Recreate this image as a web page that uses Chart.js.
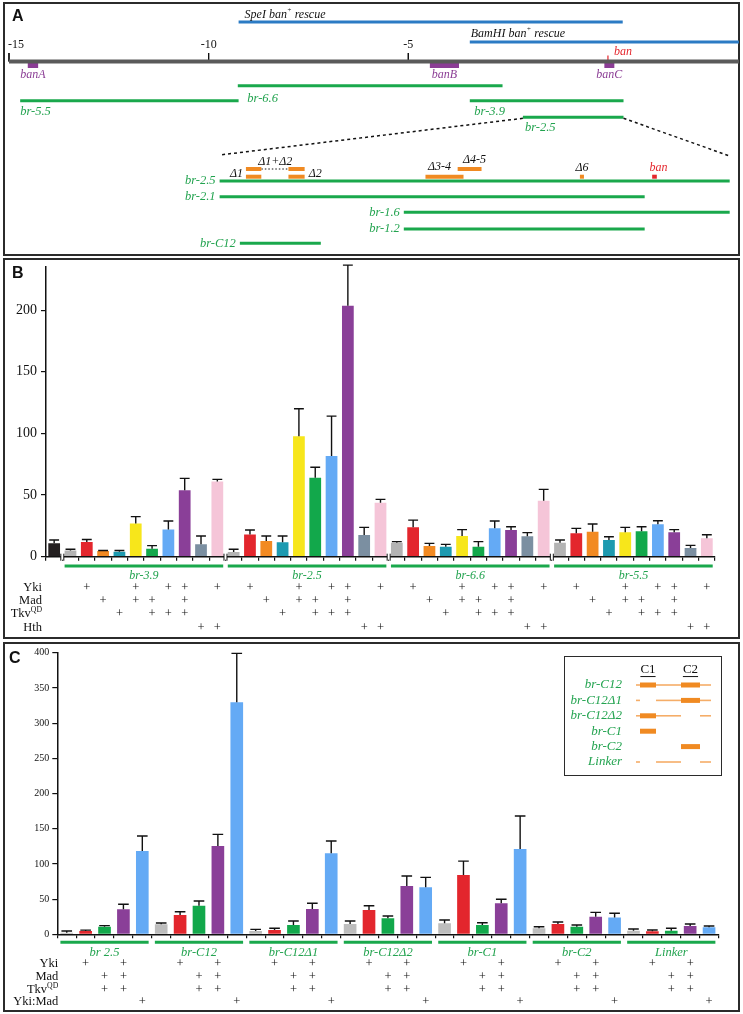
<!DOCTYPE html>
<html>
<head>
<meta charset="utf-8">
<title>ban reporter assays</title>
<script src="https://cdn.jsdelivr.net/npm/chart.js@4.4.1/dist/chart.umd.min.js"></script>
<style>
  body { margin: 0; background: #fff; }
  #page { position: relative; width: 743px; height: 1014px; overflow: hidden; }
  .box { position: absolute; border: 2px solid #2b2b2b; box-sizing: border-box; }
  .holder { position: absolute; }
  .letter { position: absolute; font: bold 16px "Liberation Sans", Arial, sans-serif; color: #111; }
</style>
</head>
<body>
<div id="page">
  <div class="box" style="left:3px;top:2px;width:737px;height:254px"></div>
  <div class="box" style="left:3px;top:258px;width:737px;height:381px"></div>
  <div class="box" style="left:3px;top:642px;width:737px;height:370px"></div>
  <div class="holder" style="left:8px;top:0;width:731px;height:256px"><canvas id="chartA"></canvas></div>
  <div class="holder" style="left:5px;top:261px;width:733px;height:376px"><canvas id="chartB"></canvas></div>
  <div class="holder" style="left:5px;top:644px;width:733px;height:366px"><canvas id="chartC"></canvas></div>
  <div class="box" style="left:564px;top:656px;width:158px;height:120px;border-width:1.5px"></div>
  <div class="holder" style="left:566px;top:658px;width:155px;height:117px"><canvas id="chartInset"></canvas></div>
  <div class="letter" style="left:12px;top:7px">A</div>
  <div class="letter" style="left:12px;top:264px">B</div>
  <div class="letter" style="left:9px;top:649px">C</div>
</div>
<script>
// --- panel A: ban locus (kb) ---
const mapTicks = [-15, -10, -5];
const rescueNames = ['SpeI', 'BamHI'];
const rescueStarts = [-9.25, -3.46];
const rescueEnds = [0.37, 3.28];
const geneNames = ['banA', 'banB', 'banC'];
const geneStarts = [-14.53, -4.46, -0.09];
const geneEnds = [-14.27, -3.73, 0.16];
const banSite = 0;
const fragmentNames = ['br-6.6', 'br-5.5', 'br-3.9', 'br-2.5'];
const fragmentStarts = [-9.27, -14.72, -3.46, -2.13];
const fragmentEnds = [-2.64, -9.25, 0.39, 0.39];
// enlarged br-2.5, kb from its left end
const detailNames = ['br-2.5', 'br-2.1', 'br-1.6', 'br-1.2', 'br-C12'];
const detailStarts = [0, 0, 0.91, 0.91, 0.10];
const detailEnds = [2.52, 2.10, 2.52, 2.10, 0.50];
const deletionNames = ['Δ1', 'Δ2', 'Δ3-4', 'Δ4-5', 'Δ6'];
const deletionStarts = [0.13, 0.34, 1.017, 1.176, 1.78];
const deletionEnds = [0.206, 0.42, 1.205, 1.294, 1.80];
const detailBanStart = 2.137, detailBanEnd = 2.16;

// --- panel B: luciferase activity ---
const bGroups = ['br-3.9', 'br-2.5', 'br-6.6', 'br-5.5'];
const bConditions = ['none', 'Yki', 'Mad', 'TkvQD', 'Yki+Mad', 'Mad+TkvQD', 'Yki+TkvQD', 'Yki+Mad+TkvQD', 'Hth', 'Yki+Hth'];
const bFactors = ['Yki', 'Mad', 'TkvQD', 'Hth'];
const bControl = 11, bControlErr = 2.5;
const bBr39 = [5, 12, 4.6, 4, 27, 6.5, 22, 54, 10, 61];
const bBr39Err = [1, 2, 0.4, 1, 5.5, 2.5, 7, 9.5, 6.8, 1.7];
const bBr25 = [3.8, 18, 12.7, 11.7, 97.8, 64, 81.6, 203.5, 17.6, 43.8];
const bBr25Err = [2.2, 3.6, 4.1, 5.1, 22.2, 8.5, 32.4, 33, 6.2, 2.7];
const bBr66 = [11.4, 23.8, 8.7, 8.1, 16.8, 8.1, 23, 21.6, 16.5, 45.4];
const bBr66Err = [0.8, 5.9, 2.1, 1.9, 5.2, 4.1, 6, 2.7, 3, 9.2];
const bBr55 = [11.4, 19, 20.3, 13.5, 19.8, 20.6, 26.3, 19.8, 7, 15];
const bBr55Err = [2.1, 4, 6.2, 2.7, 4, 3.7, 2.9, 2.2, 2.2, 2.8];

// --- panel C ---
const cGroups = ['br 2.5', 'br-C12', 'br-C12Δ1', 'br-C12Δ2', 'br-C1', 'br-C2', 'Linker'];
const cConditions = ['none', 'Yki', 'Mad+TkvQD', 'Yki+Mad+TkvQD', 'Yki:Mad'];
const cFactors = ['Yki', 'Mad', 'TkvQD', 'Yki:Mad'];
const cBr25 = [2.3, 4.7, 10.8, 35.5, 118.3];
const cBr25Err = [2.4, 1.3, 1.5, 7.1, 21.3];
const cC12 = [14.2, 27.4, 40.6, 125.4, 329.5];
const cC12Err = [1.8, 4.6, 6.7, 16.6, 69.5];
const cC12d1 = [4.7, 6, 13.2, 36, 115];
const cC12d1Err = [2.3, 2.5, 5.7, 8, 17.5];
const cC12d2 = [14.6, 34.5, 22.7, 68.6, 66.7];
const cC12d2Err = [4.3, 6.1, 3.3, 14.2, 14.2];
const cC1 = [15.6, 84.2, 13.2, 44, 121];
const cC1Err = [4.7, 19.8, 3.3, 5.7, 47];
const cC2 = [8.5, 14.6, 10.8, 25, 24];
const cC2Err = [2.3, 2.9, 2.4, 6.2, 5.8];
const cLinker = [5.2, 4.2, 5, 11.8, 10];
const cLinkerErr = [2.3, 2, 3.5, 2.8, 1.8];

// inset: constructs drawn as % of br-C12 length
const insetNames = ['br-C12', 'br-C12Δ1', 'br-C12Δ2', 'br-C1', 'br-C2', 'Linker'];
const insetHasC1 = [true, false, true, true, false, false];
const insetHasC2 = [true, true, false, false, true, false];
const insetHasLinker = [true, true, true, false, false, true];
const c1Span = [5.3, 26.7];
const c2Span = [60, 85.3];
const linkerSpans = [[0, 5.3], [26.7, 60], [85.3, 100]];

// --- styles ---
const serif = '"Liberation Serif", "Times New Roman", serif';
const ital = s => `italic ${s}px ${serif}`;
const rom = s => `${s}px ${serif}`;
const BLUE = '#2b7bc4', GREY = '#5a5a5a', PURPLE = '#8b3d95', GREEN = '#1aa84c', TEXTGREEN = '#22a34f';
const ORANGE = '#f08a22', RED = '#e5262d';
const bColors = ['#b3b3b3', '#e3262d', '#f28a22', '#1d9ab0', '#f7e61b', '#12a84b', '#64aaf5', '#8a3f98', '#7b8fa1', '#f5c5d8'];
const bControlColor = '#231f20';
const cColors = ['#bdbdbd', '#e3262d', '#12a84b', '#8a3f98', '#64aaf5'];

Chart.defaults.animation = false;
Chart.defaults.events = [];
Chart.defaults.plugins.legend.display = false;
Chart.defaults.plugins.tooltip.enabled = false;

function drawRich(ctx, parts, x, y, align, color) {
  ctx.textBaseline = 'middle';
  ctx.textAlign = 'left';
  ctx.fillStyle = color || '#111';
  let w = 0;
  parts.forEach(p => { ctx.font = p[1]; w += ctx.measureText(p[0]).width; });
  let px = align === 'right' ? x - w : align === 'center' ? x - w / 2 : x;
  parts.forEach(p => {
    ctx.font = p[1];
    ctx.fillText(p[0], px, y + (p[2] || 0));
    px += ctx.measureText(p[0]).width;
  });
}
function drawText(ctx, str, x, y, font, color, align) {
  drawRich(ctx, [[str, font, 0]], x, y, align, color);
}

// ========== panel A ==========
// pixel rows of the schematic tracks
const aRows = {
  rescue: { SpeI: 22, BamHI: 42 }, rescueLabel: { SpeI: 14.5, BamHI: 33.5 }, rescueLabelDx: { SpeI: 6, BamHI: 1 },
  tickLabel: 45, tickTop: 53, axis: 61.5, genes: 65.5, geneLabel: 74.5, banTick: [55.5, 60], banLabel: 51.5,
  fragment: { 'br-6.6': 85.7, 'br-5.5': 100.7, 'br-3.9': 100.7, 'br-2.5': 117.3 },
  fragmentLabel: { 'br-6.6': [9.5, 99], 'br-5.5': [0, 112], 'br-3.9': [4.5, 111.5], 'br-2.5': [2, 128] },
  detail: { 'br-2.5': 181, 'br-2.1': 196.7, 'br-1.6': 212.3, 'br-1.2': 229, 'br-C12': 243.3 },
  delUpper: 169, delLower: 176.7, zoomTop: [155, 156]
};
const upperRow = ['Δ1', 'Δ2', 'Δ4-5'];
const lowerRow = ['Δ1', 'Δ2', 'Δ3-4', 'Δ6'];

const seg = (x1, x2, y, color, width, axis, dash) => ({
  data: [{ x: x1, y: y }, { x: x2, y: y }], borderColor: color, borderWidth: width,
  xAxisID: axis || 'x', borderDash: dash || [], showLine: true, pointRadius: 0, borderCapStyle: 'butt'
});
const vseg = (x, y1, y2, color, width) => ({
  data: [{ x: x, y: y1 }, { x: x, y: y2 }], borderColor: color, borderWidth: width,
  xAxisID: 'x', showLine: true, pointRadius: 0, borderCapStyle: 'butt'
});

const aSets = [];
rescueNames.forEach((n, i) => aSets.push(seg(rescueStarts[i], rescueEnds[i], aRows.rescue[n], BLUE, 3)));
aSets.push(seg(-15, 3.28, aRows.axis, GREY, 4));
mapTicks.forEach(t => aSets.push(vseg(t, aRows.tickTop, aRows.axis, '#111', 1)));
geneNames.forEach((n, i) => aSets.push(seg(geneStarts[i], geneEnds[i], aRows.genes, PURPLE, 5)));
aSets.push(vseg(banSite, aRows.banTick[0], aRows.banTick[1], RED, 1.2));
fragmentNames.forEach((n, i) => aSets.push(seg(fragmentStarts[i], fragmentEnds[i], aRows.fragment[n], GREEN, 3)));
detailNames.forEach((n, i) => aSets.push(seg(detailStarts[i], detailEnds[i], aRows.detail[n], GREEN, 3, 'x2')));
deletionNames.forEach((n, i) => {
  if (upperRow.includes(n)) aSets.push(seg(deletionStarts[i], deletionEnds[i], aRows.delUpper, ORANGE, 4, 'x2'));
  if (lowerRow.includes(n)) aSets.push(seg(deletionStarts[i], deletionEnds[i], aRows.delLower, ORANGE, 4, 'x2'));
});
aSets.push(seg(deletionEnds[0], deletionStarts[1], aRows.delUpper, '#111', 1, 'x2', [1.5, 2]));
aSets.push(seg(detailBanStart, detailBanEnd, aRows.delLower, RED, 4, 'x2'));

const panelAText = {
  id: 'panelAText',
  afterDatasetsDraw(chart) {
    const ctx = chart.ctx, x = chart.scales.x, x2 = chart.scales.x2, y = chart.scales.y;
    ctx.save();
    mapTicks.forEach((t, i) => {
      const px = x.getPixelForValue(t);
      drawText(ctx, String(t), i === 0 ? px - 1 : px, y.getPixelForValue(aRows.tickLabel), rom(12), '#111', i === 0 ? 'left' : 'center');
    });
    rescueNames.forEach((n, i) => {
      drawRich(ctx, [[n + ' ban', ital(12), 0], ['+', ital(7), -4], [' rescue', ital(12), 0]],
        x.getPixelForValue(rescueStarts[i]) + aRows.rescueLabelDx[n], y.getPixelForValue(aRows.rescueLabel[n]), 'left', '#111');
    });
    geneNames.forEach((n, i) => {
      drawText(ctx, n, x.getPixelForValue((geneStarts[i] + geneEnds[i]) / 2), y.getPixelForValue(aRows.geneLabel), ital(12), PURPLE, 'center');
    });
    drawText(ctx, 'ban', x.getPixelForValue(banSite) + 6, y.getPixelForValue(aRows.banLabel), ital(12), RED, 'left');
    fragmentNames.forEach((n, i) => {
      const off = aRows.fragmentLabel[n];
      drawText(ctx, n, x.getPixelForValue(fragmentStarts[i]) + off[0], y.getPixelForValue(off[1]), ital(12.5), TEXTGREEN, 'left');
    });
    detailNames.forEach((n, i) => {
      drawText(ctx, n, x2.getPixelForValue(detailStarts[i]) - 4, y.getPixelForValue(aRows.detail[n]), ital(12.5), TEXTGREEN, 'right');
    });
    // dashed zoom lines
    ctx.strokeStyle = '#111'; ctx.lineWidth = 1.5; ctx.setLineDash([3, 3]);
    const zi = fragmentNames.indexOf('br-2.5');
    ctx.beginPath();
    ctx.moveTo(x.getPixelForValue(fragmentStarts[zi]), y.getPixelForValue(aRows.fragment['br-2.5'] + 1));
    ctx.lineTo(x2.getPixelForValue(detailStarts[0]), y.getPixelForValue(aRows.zoomTop[0]));
    ctx.moveTo(x.getPixelForValue(fragmentEnds[zi]), y.getPixelForValue(aRows.fragment['br-2.5'] + 1));
    ctx.lineTo(x2.getPixelForValue(detailEnds[0]), y.getPixelForValue(aRows.zoomTop[1]));
    ctx.stroke();
    ctx.setLineDash([]);
    // deletion labels
    const mid = i => (deletionStarts[i] + deletionEnds[i]) / 2;
    drawText(ctx, 'Δ1+Δ2', (x2.getPixelForValue(deletionStarts[0]) + x2.getPixelForValue(deletionEnds[1])) / 2, y.getPixelForValue(161.5), ital(12), '#111', 'center');
    drawText(ctx, 'Δ1', x2.getPixelForValue(deletionStarts[0]) - 3, y.getPixelForValue(174), ital(12), '#111', 'right');
    drawText(ctx, 'Δ2', x2.getPixelForValue(deletionEnds[1]) + 4, y.getPixelForValue(174), ital(12), '#111', 'left');
    drawText(ctx, 'Δ3-4', x2.getPixelForValue(mid(2)) - 5, y.getPixelForValue(167), ital(12), '#111', 'center');
    drawText(ctx, 'Δ4-5', x2.getPixelForValue(mid(3)) + 5, y.getPixelForValue(159.5), ital(12), '#111', 'center');
    drawText(ctx, 'Δ6', x2.getPixelForValue(mid(4)), y.getPixelForValue(168), ital(12), '#111', 'center');
    drawText(ctx, 'ban', x2.getPixelForValue((detailBanStart + detailBanEnd) / 2) + 4, y.getPixelForValue(168), ital(12), RED, 'center');
    ctx.restore();
  }
};

new Chart(document.getElementById('chartA'), {
  type: 'scatter',
  data: { datasets: aSets },
  options: {
    responsive: true, maintainAspectRatio: false,
    layout: { padding: 0 },
    scales: {
      x: { type: 'linear', min: -15.025, max: 3.282, display: false },
      x2: { type: 'linear', min: -1.0455, max: 2.566, display: false },
      y: { type: 'linear', min: 0, max: 256, reverse: true, display: false }
    }
  },
  plugins: [panelAText]
});

// ========== bar panels ==========
function rowsPlugin(o) {
  return {
    id: 'rows',
    afterDraw(chart) {
      const ctx = chart.ctx, ys = chart.scales.y;
      const bars = chart.getDatasetMeta(0).data;
      const y0 = ys.getPixelForValue(0);
      ctx.save();
      // error bars (upper only)
      ctx.strokeStyle = '#111'; ctx.lineWidth = 1.4;
      o.values.forEach((v, i) => {
        const b = bars[i], top = ys.getPixelForValue(v), end = ys.getPixelForValue(v + o.errors[i]);
        const half = b.width * 0.42;
        ctx.beginPath();
        ctx.moveTo(b.x, top); ctx.lineTo(b.x, end);
        ctx.moveTo(b.x - half, end); ctx.lineTo(b.x + half, end);
        ctx.stroke();
      });
      // axis breaks
      (o.breaks || []).forEach(i => {
        const px = (bars[i - 1].x + bars[i].x) / 2;
        ctx.fillStyle = '#fff'; ctx.fillRect(px - 1.5, y0 - 2, 3, 5);
        ctx.strokeStyle = '#111'; ctx.lineWidth = 1;
        ctx.beginPath();
        ctx.moveTo(px - 1.5, y0 - 3); ctx.lineTo(px - 1.5, y0 + 4);
        ctx.moveTo(px + 1.5, y0 - 3); ctx.lineTo(px + 1.5, y0 + 4);
        ctx.stroke();
      });
      // construct underlines and names
      o.groups.forEach(g => {
        const l = bars[g.first].x - bars[g.first].width / 2, r = bars[g.last].x + bars[g.last].width / 2;
        ctx.strokeStyle = GREEN; ctx.lineWidth = 3;
        ctx.beginPath(); ctx.moveTo(l, y0 + o.lineDy); ctx.lineTo(r, y0 + o.lineDy); ctx.stroke();
        drawText(ctx, g.name, (l + r) / 2, y0 + o.labelDy, ital(o.groupSize), TEXTGREEN, 'center');
      });
      // factor rows
      o.factors.forEach((f, r) => {
        const yy = y0 + o.rowDy[r];
        const parts = f === 'TkvQD'
          ? [['Tkv', rom(o.rowSize), 0], ['QD', rom(o.rowSize * 0.62), -o.rowSize * 0.3]]
          : [[f, rom(o.rowSize), 0]];
        drawRich(ctx, parts, chart.chartArea.left + o.labelDx, yy, 'right', '#111');
        o.barFactors.forEach((list, i) => {
          if (list.includes(f)) drawText(ctx, '+', bars[i].x, yy, rom(o.rowSize), '#111', 'center');
        });
      });
      ctx.restore();
    }
  };
}

function barChart(id, o) {
  return new Chart(document.getElementById(id), {
    type: 'bar',
    data: {
      labels: o.labels,
      datasets: [{ data: o.values, backgroundColor: o.colors, borderWidth: 0, barPercentage: o.barPct, categoryPercentage: 1 }]
    },
    options: {
      responsive: true, maintainAspectRatio: false,
      layout: { padding: { top: o.padTop, right: o.padRight, left: 0, bottom: 0 } },
      scales: {
        x: {
          type: 'category', offset: true,
          ticks: { display: false },
          grid: { offset: true, drawOnChartArea: false, drawTicks: true, tickLength: 4, color: '#111', lineWidth: 1.2 },
          border: { display: true, color: '#111', width: 1.5 },
          afterFit(s) { s.height = o.xAxisHeight; }
        },
        y: {
          min: 0, max: o.yMax,
          ticks: { stepSize: 50, color: '#111', font: { family: serif, size: o.tickSize }, padding: o.tickPad },
          grid: { drawOnChartArea: false, drawTicks: true, tickLength: 5, color: '#111', lineWidth: 1.2 },
          border: { display: true, color: '#111', width: 1.5 },
          afterBuildTicks(s) { s.ticks = s.ticks.filter(t => t.value % 50 === 0); },
          afterFit(s) { s.width = o.yAxisWidth; s.paddingTop = 0; s.paddingBottom = 0; }
        }
      }
    },
    plugins: [rowsPlugin(o)]
  });
}

// panel B
const bSeries = [[bBr39, bBr39Err], [bBr25, bBr25Err], [bBr66, bBr66Err], [bBr55, bBr55Err]];
const bLabels = ['control'], bValues = [bControl], bErrors = [bControlErr], bBarColors = [bControlColor], bBarFactors = [[]];
bGroups.forEach((g, gi) => bConditions.forEach((c, ci) => {
  bLabels.push(g + ' ' + c);
  bValues.push(bSeries[gi][0][ci]);
  bErrors.push(bSeries[gi][1][ci]);
  bBarColors.push(bColors[ci]);
  bBarFactors.push(c === 'none' ? [] : c.split('+'));
}));
barChart('chartB', {
  labels: bLabels, values: bValues, errors: bErrors, colors: bBarColors, barFactors: bBarFactors,
  factors: bFactors,
  groups: bGroups.map((g, gi) => ({ name: g, first: 1 + gi * bConditions.length, last: (gi + 1) * bConditions.length })),
  breaks: bGroups.map((g, gi) => 1 + gi * bConditions.length),
  yMax: 235, barPct: 0.72, padTop: 6, padRight: 23, xAxisHeight: 80.3, yAxisWidth: 41,
  tickSize: 14, tickPad: 4,
  lineDy: 9.3, labelDy: 19.5, rowDy: [31.5, 44.5, 57.5, 71.5], labelDx: -4, rowSize: 12.5, groupSize: 12
});

// panel C
const cSeries = [[cBr25, cBr25Err], [cC12, cC12Err], [cC12d1, cC12d1Err], [cC12d2, cC12d2Err], [cC1, cC1Err], [cC2, cC2Err], [cLinker, cLinkerErr]];
const cLabels = [], cValues = [], cErrors = [], cBarColors = [], cBarFactors = [];
cGroups.forEach((g, gi) => cConditions.forEach((c, ci) => {
  cLabels.push(g + ' ' + c);
  cValues.push(cSeries[gi][0][ci]);
  cErrors.push(cSeries[gi][1][ci]);
  cBarColors.push(cColors[ci]);
  cBarFactors.push(c === 'none' ? [] : c.split('+'));
}));
barChart('chartC', {
  labels: cLabels, values: cValues, errors: cErrors, colors: cBarColors, barFactors: cBarFactors,
  factors: cFactors,
  groups: cGroups.map((g, gi) => ({ name: g, first: gi * cConditions.length, last: (gi + 1) * cConditions.length - 1 })),
  yMax: 400, barPct: 0.67, padTop: 8.7, padRight: 19.5, xAxisHeight: 75.7, yAxisWidth: 52.3,
  tickSize: 10, tickPad: 3,
  lineDy: 8, labelDy: 18, rowDy: [29, 42.5, 55, 67.5], labelDx: 1, rowSize: 12.5, groupSize: 12.5
});

// inset schematic
const insetSets = [];
insetNames.forEach((n, r) => {
  if (insetHasLinker[r]) linkerSpans.forEach(s => insetSets.push({
    data: [{ x: s[0], y: r }, { x: s[1], y: r }], borderColor: '#f5ad68', borderWidth: 1.6,
    showLine: true, pointRadius: 0, borderCapStyle: 'butt'
  }));
  [[insetHasC1[r], c1Span], [insetHasC2[r], c2Span]].forEach(([has, s]) => {
    if (has) insetSets.push({
      data: [{ x: s[0], y: r }, { x: s[1], y: r }], borderColor: ORANGE, borderWidth: 5,
      showLine: true, pointRadius: 0, borderCapStyle: 'butt'
    });
  });
});
const insetText = {
  id: 'insetText',
  afterDatasetsDraw(chart) {
    const ctx = chart.ctx, x = chart.scales.x, y = chart.scales.y;
    ctx.save();
    [['C1', c1Span], ['C2', c2Span]].forEach(([t, s]) => {
      const cx = x.getPixelForValue((s[0] + s[1]) / 2), cy = y.getPixelForValue(-0.97);
      drawText(ctx, t, cx, cy, rom(13), '#111', 'center');
      ctx.font = rom(13);
      const w = ctx.measureText(t).width;
      ctx.strokeStyle = '#111'; ctx.lineWidth = 1;
      ctx.beginPath(); ctx.moveTo(cx - w / 2, cy + 6.5); ctx.lineTo(cx + w / 2, cy + 6.5); ctx.stroke();
    });
    insetNames.forEach((n, r) => drawText(ctx, n, x.getPixelForValue(0) - 14, y.getPixelForValue(r), ital(13), TEXTGREEN, 'right'));
    ctx.restore();
  }
};
new Chart(document.getElementById('chartInset'), {
  type: 'scatter',
  data: { datasets: insetSets },
  options: {
    responsive: true, maintainAspectRatio: false,
    layout: { padding: 0 },
    scales: {
      x: { type: 'linear', min: -93.33, max: 113.33, display: false },
      y: { type: 'linear', min: -1.753, max: 5.844, reverse: true, display: false }
    }
  },
  plugins: [insetText]
});
</script>
</body>
</html>
